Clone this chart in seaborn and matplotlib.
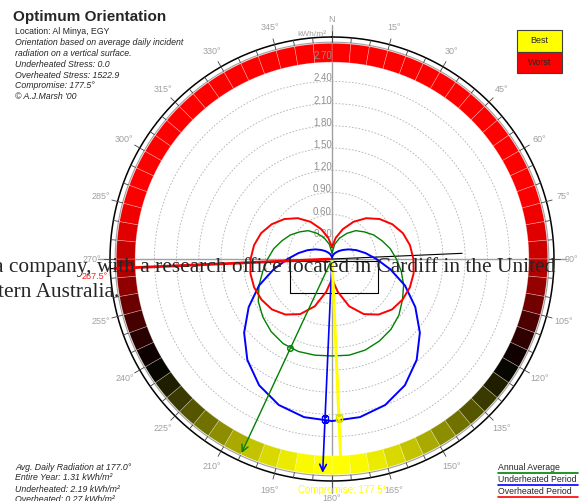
import numpy as np
import matplotlib
matplotlib.use("Agg")
import matplotlib.pyplot as plt
import seaborn as sns
from matplotlib.colors import LinearSegmentedColormap, Normalize
from matplotlib.patches import Rectangle
from matplotlib.lines import Line2D

sns.set_theme(style="white")
plt.rcParams['font.family'] = ['Liberation Sans', 'DejaVu Sans']

# ---- data ----
azimuth = [0, 10, 20, 30, 40, 50, 60, 70, 80, 90, 100, 110, 120, 130, 140, 150, 160, 170,
           180, 190, 200, 210, 220, 230, 240, 250, 260, 270, 280, 290, 300, 310, 320, 330, 340, 350, 360]
overheated = [0.16, 0.29, 0.43, 0.58, 0.72, 0.84, 0.94, 1.02, 1.07, 1.10, 1.12, 1.12, 1.10, 1.06, 0.98, 0.86, 0.68, 0.45,
              0.27, 0.45, 0.68, 0.86, 0.98, 1.06, 1.10, 1.12, 1.12, 1.10, 1.07, 1.02, 0.94, 0.84, 0.72, 0.58, 0.43, 0.29, 0.16]
annual = [0.08, 0.20, 0.30, 0.40, 0.50, 0.57, 0.65, 0.72, 0.80, 0.87, 0.95, 1.03, 1.10, 1.18, 1.24, 1.28, 1.31, 1.32,
          1.31, 1.32, 1.33, 1.32, 1.28, 1.22, 1.15, 1.05, 0.95, 0.87, 0.80, 0.72, 0.65, 0.57, 0.50, 0.40, 0.30, 0.20, 0.08]
underheated = [0.02, 0.04, 0.07, 0.10, 0.14, 0.19, 0.26, 0.35, 0.46, 0.60, 0.80, 1.05, 1.30, 1.55, 1.78, 1.97, 2.10, 2.17,
               2.19, 2.17, 2.10, 1.97, 1.78, 1.55, 1.30, 1.05, 0.80, 0.60, 0.46, 0.35, 0.26, 0.19, 0.14, 0.10, 0.07, 0.04, 0.02]

band_start = list(range(0, 360, 5))
band_score = [-1, -1, -1, -1, -1, -1, -1, -1, -1, -1, -1, -1, -1, -1, -0.98,
              -0.94, -0.88, -0.80, -0.70, -0.58, -0.44, -0.30, -0.18, -0.07, 0.03,
              0.12, 0.22, 0.33, 0.44, 0.55, 0.66, 0.76, 0.85, 0.92, 0.97, 1.00,
              1.00, 0.97, 0.92, 0.85, 0.76, 0.66, 0.55, 0.44, 0.33, 0.22, 0.12, 0.03,
              -0.06, -0.16, -0.28, -0.42, -0.56, -0.68, -0.78, -0.87, -0.94,
              -0.98, -1, -1, -1, -1, -1, -1, -1, -1, -1, -1, -1, -1, -1, -1]

ring_values = [0.30, 0.60, 0.90, 1.20, 1.50, 1.80, 2.10, 2.40, 2.70]
angle_ticks = list(range(0, 360, 15))

best_annual = (205.0, 1.33)
best_under = (182.5, 2.17)
compromise = (177.5, 2.15)
worst_angle = 267.5

info_lines = ["Location: Al Minya, EGY",
              "Orientation based on average daily incident",
              "radiation on a vertical surface.",
              "Underheated Stress: 0.0",
              "Overheated Stress: 1522.9",
              "Compromise: 177.5°",
              "© A.J.Marsh '00"]
avg_lines = ["Avg. Daily Radiation at 177.0°",
             "Entire Year: 1.31 kWh/m²",
             "Underheated: 2.19 kWh/m²",
             "Overheated: 0.27 kWh/m²"]
legend_items = [("Annual Average", "green"),
                ("Underheated Period", "blue"),
                ("Overheated Period", "red")]

# ---- figure ----
W, H = 584, 501
fig = plt.figure(figsize=(W / 100, H / 100), dpi=100)
fig.patch.set_facecolor("white")

cx, cy = 332, 259          # centre in px from top-left
ppu = 74.0                 # px per kWh/m2
rmax = 3.3
R = rmax * ppu
ax = fig.add_axes([(cx - R) / W, (H - cy - R) / H, 2 * R / W, 2 * R / H], projection="polar")
ax.set_theta_zero_location("N")
ax.set_theta_direction(-1)
ax.axis("off")

grey = "#a0a0a0"
full = np.linspace(0, 2 * np.pi, 361)

# dashed rings
for v in ring_values:
    ax.plot(full, np.full_like(full, v), color="#b0b0b0", lw=0.6, ls=(0, (2, 2)), zorder=1)

# axis cross
for a in [0, 90]:
    t = np.deg2rad(a)
    ax.plot([t, t + np.pi], [3.16, 3.16], color=grey, lw=1.0, zorder=2)

# colour band
cmap = LinearSegmentedColormap.from_list("score", ["#ff0000", "#000000", "#ffff00"])
norm = Normalize(-1, 1)
ax.bar(np.deg2rad(band_start), 2.915 - 2.66, width=np.deg2rad(5), bottom=2.66, align="edge",
       color=cmap(norm(np.array(band_score))), edgecolor=(1, 1, 1, 0.35), linewidth=0.5, zorder=3)

# outer circles and ticks
ax.plot(full, np.full_like(full, 2.93), color=grey, lw=0.8, zorder=3)
ax.plot(full, np.full_like(full, 3.0), color="black", lw=1.1, zorder=3)
for a in range(0, 360, 5):
    t = np.deg2rad(a)
    top = 3.08 if a % 15 == 0 else 3.0
    ax.plot([t, t], [2.93, top], color="#404040", lw=0.6, zorder=3)

for a in angle_ticks:
    lab = "N" if a == 0 else f"{a}°"
    ax.text(np.deg2rad(a), 3.24, lab, ha="center", va="center", fontsize=6.5, color=grey, zorder=4)
ax.text(np.deg2rad(-5), 3.05, "kWh/m²", ha="center", va="center", fontsize=6, color=grey, zorder=4)

for v in ring_values:
    ax.text(0, v + 0.04, f"{v:.2f}", ha="right", va="center", fontsize=7, color="#909090", zorder=4)

# building outline and axis
rect_x = [-0.57, 0.62, 0.62, -0.57, -0.57]
rect_y = [-0.03, -0.03, -0.46, -0.46, -0.03]
ax.plot(np.arctan2(rect_x, rect_y), np.hypot(rect_x, rect_y), color="black", lw=0.8, zorder=5)
ax.plot([np.deg2rad(worst_angle), np.deg2rad(worst_angle - 180)], [3.0, 1.76], color="black", lw=0.8, zorder=5)

# curves
th = np.deg2rad(azimuth)
sns.lineplot(x=th, y=annual, color="green", lw=1.0, sort=False, estimator=None, ax=ax, zorder=6)
sns.lineplot(x=th, y=underheated, color="blue", lw=1.4, sort=False, estimator=None, ax=ax, zorder=6)
sns.lineplot(x=th, y=overheated, color="red", lw=1.4, sort=False, estimator=None, ax=ax, zorder=6)

# optimum pointers
ax.annotate("", xy=(np.deg2rad(best_annual[0]), 2.93), xytext=(0, 0),
            arrowprops=dict(arrowstyle="->", color="green", lw=1.0, mutation_scale=12), zorder=7)
ax.annotate("", xy=(np.deg2rad(best_under[0]), 2.93), xytext=(0, 0),
            arrowprops=dict(arrowstyle="->", color="blue", lw=1.2, mutation_scale=12), zorder=7)
ax.annotate("", xy=(np.deg2rad(compromise[0]), 2.95), xytext=(0, 0),
            arrowprops=dict(arrowstyle="-|>", color="#ffff00", lw=2.2, mutation_scale=8), zorder=7)
ax.annotate("", xy=(np.deg2rad(worst_angle), 2.98), xytext=(0, 0),
            arrowprops=dict(arrowstyle="-", color="red", lw=2.0), zorder=7)
ax.plot(np.deg2rad(best_annual[0]), best_annual[1], marker="o", ms=4, mfc="none", mec="green", zorder=8)
ax.plot(np.deg2rad(best_under[0]), best_under[1], marker="s", ms=4, mfc="none", mec="blue", zorder=8)
ax.plot(np.deg2rad(compromise[0]), compromise[1], marker="s", ms=4, mfc="none", mec="#e0e000", zorder=8)

ax.text(np.deg2rad(compromise[0]), 3.12, "Compromise: 177.5°", ha="center", va="center",
        fontsize=7, color="#ffff00", zorder=8)
ax.text(np.deg2rad(265.8), 3.22, "267.5°", ha="center", va="center", fontsize=6.5, color="#ff2020", zorder=8)
ax.set_ylim(0, rmax)

# ---- figure texts (px coordinates) ----
def fx(x):
    return x / W

def fy(y):
    return 1 - y / H

fig.text(fx(13), fy(17), "Optimum Orientation", fontsize=11, fontweight="bold", va="center", ha="left")
for i, line in enumerate(info_lines):
    style = "normal" if i == 0 else "italic"
    fig.text(fx(15), fy(32 + i * 10.8), line, fontsize=6.3, style=style, va="center", ha="left")
for i, line in enumerate(avg_lines):
    fig.text(fx(15), fy(467 + i * 11), line, fontsize=6.3, style="italic", va="center", ha="left")
for i, (lab, col) in enumerate(legend_items):
    y = 468 + i * 12
    fig.text(fx(498), fy(y), lab, fontsize=6.3, va="center", ha="left")
    fig.add_artist(Line2D([fx(498), fx(578)], [fy(y + 5), fy(y + 5)], color=col, lw=1.2))

fig.add_artist(Rectangle((fx(517), fy(52)), (562 - 517) / W, 22 / H, facecolor="#ffff00", edgecolor="#404040", lw=0.8))
fig.add_artist(Rectangle((fx(517), fy(73)), (562 - 517) / W, 21 / H, facecolor="#ff0000", edgecolor="#404040", lw=0.8))
fig.text(fx(539.5), fy(41), "Best", fontsize=6.5, ha="center", va="center")
fig.text(fx(539.5), fy(62.5), "Worst", fontsize=6.5, ha="center", va="center")

# page text bleeding through the screenshot
fig.text(fx(-6), fy(272), "a company, with a research office located in Cardiff in the United",
         fontsize=15.4, family="Liberation Serif", va="baseline", ha="left", zorder=20)
fig.text(fx(-2), fy(297), "tern Australia.", fontsize=15.4, family="Liberation Serif",
         va="baseline", ha="left", zorder=20)

fig.savefig("out.png", dpi=100, facecolor="white")
